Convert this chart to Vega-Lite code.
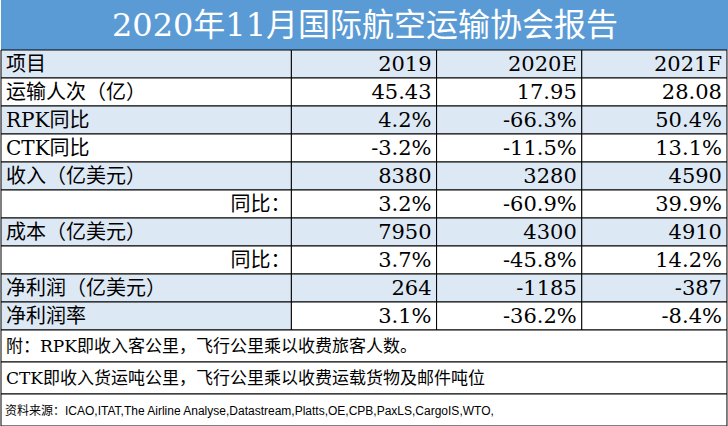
{
  "$schema": "https://vega.github.io/schema/vega-lite/v6.json",
  "background": "white",
  "padding": 0,
  "autosize": {"type": "pad"},
  "bounds": "flush",
  "spacing": 0,
  "config": {"view": {"stroke": null}},
  "vconcat": [
    {
      "width": 728,
      "height": 50,
      "view": {"fill": "#5b9bd5", "stroke": null},
      "data": {"values": [{"t": "2020年11月国际航空运输协会报告"}]},
      "mark": {"type": "text", "color": "white", "font": "DejaVu Serif, Noto Sans CJK SC", "fontSize": 32, "align": "center", "baseline": "middle", "dy": 1},
      "encoding": {"text": {"field": "t"}}
    },
    {
      "width": 728,
      "height": 280,
      "data": {"values": [
        {"r": 0, "item": "项目", "c2019": "2019", "c2020E": "2020E", "c2021F": "2021F"},
        {"r": 1, "item": "运输人次（亿）", "c2019": "45.43", "c2020E": "17.95", "c2021F": "28.08"},
        {"r": 2, "item": "RPK同比", "c2019": "4.2%", "c2020E": "-66.3%", "c2021F": "50.4%"},
        {"r": 3, "item": "CTK同比", "c2019": "-3.2%", "c2020E": "-11.5%", "c2021F": "13.1%"},
        {"r": 4, "item": "收入（亿美元）", "c2019": "8380", "c2020E": "3280", "c2021F": "4590"},
        {"r": 5, "item": "同比：", "c2019": "3.2%", "c2020E": "-60.9%", "c2021F": "39.9%"},
        {"r": 6, "item": "成本（亿美元）", "c2019": "7950", "c2020E": "4300", "c2021F": "4910"},
        {"r": 7, "item": "同比：", "c2019": "3.7%", "c2020E": "-45.8%", "c2021F": "14.2%"},
        {"r": 8, "item": "净利润（亿美元）", "c2019": "264", "c2020E": "-1185", "c2021F": "-387"},
        {"r": 9, "item": "净利润率", "c2019": "3.1%", "c2020E": "-36.2%", "c2021F": "-8.4%"}
      ]},
      "transform": [
        {"fold": ["item", "c2019", "c2020E", "c2021F"], "as": ["key", "value"]},
        {"calculate": "datum.key === 'item' ? 0 : datum.key === 'c2019' ? 2 : datum.key === 'c2020E' ? 3 : 4", "as": "c0"},
        {"calculate": "datum.c0 === 0 ? 2 : datum.c0 + 1", "as": "c1"}
      ],
      "encoding": {
        "y": {"field": "r", "type": "ordinal", "axis": null, "scale": {"paddingInner": 0, "paddingOuter": 0}}
      },
      "layer": [
        {
          "mark": {"type": "rect", "stroke": "#000000", "strokeWidth": 1},
          "encoding": {
            "x": {"field": "c0", "type": "quantitative", "axis": null, "scale": {"domain": [0, 5.014], "nice": false, "zero": false}},
            "x2": {"field": "c1"},
            "fill": {"condition": {"test": "datum.r % 2 === 0 || (datum.r === 9 && datum.key === 'item')", "value": "#dde8f5"}, "value": "#ffffff"}
          }
        },
        {
          "transform": [{"filter": "datum.key !== 'item'"}],
          "mark": {"type": "text", "align": "right", "baseline": "middle", "dx": -5, "dy": 1, "font": "DejaVu Serif, Noto Sans CJK SC", "fontSize": 21, "color": "#000000"},
          "encoding": {
            "x": {"field": "c1", "type": "quantitative"},
            "text": {"field": "value"}
          }
        },
        {
          "transform": [{"filter": "datum.key === 'item' && datum.value !== '同比：'"}],
          "mark": {"type": "text", "align": "left", "baseline": "middle", "dx": 5, "dy": 1, "font": "DejaVu Serif, Noto Sans CJK SC", "fontSize": 20, "color": "#000000"},
          "encoding": {
            "x": {"field": "c0", "type": "quantitative"},
            "text": {"field": "value"}
          }
        },
        {
          "transform": [{"filter": "datum.key === 'item' && datum.value === '同比：'"}],
          "mark": {"type": "text", "align": "right", "baseline": "middle", "dx": -1, "dy": 1, "font": "DejaVu Serif, Noto Sans CJK SC", "fontSize": 20, "color": "#000000"},
          "encoding": {
            "x": {"field": "c1", "type": "quantitative"},
            "text": {"field": "value"}
          }
        }
      ]
    },
    {
      "width": 728,
      "height": 96,
      "data": {"values": [
        {"n": 1, "note": "附：RPK即收入客公里，飞行公里乘以收费旅客人数。"},
        {"n": 2, "note": "CTK即收入货运吨公里，飞行公里乘以收费运载货物及邮件吨位"},
        {"n": 3, "note": "资料来源：ICAO,ITAT,The Airline Analyse,Datastream,Platts,OE,CPB,PaxLS,CargoIS,WTO,"}
      ]},
      "encoding": {
        "y": {"field": "n", "type": "ordinal", "axis": null, "scale": {"paddingInner": 0, "paddingOuter": 0}}
      },
      "layer": [
        {
          "mark": {"type": "rect", "stroke": "#000000", "strokeWidth": 1, "fill": "#ffffff"},
          "encoding": {
            "x": {"datum": 0, "type": "quantitative", "axis": null, "scale": {"domain": [0, 5.014], "nice": false, "zero": false}},
            "x2": {"datum": 5}
          }
        },
        {
          "transform": [{"filter": "datum.n < 3"}],
          "mark": {"type": "text", "align": "left", "baseline": "middle", "dx": 5, "dy": 1, "font": "DejaVu Serif, Noto Sans CJK SC", "fontSize": 17, "color": "#000000"},
          "encoding": {
            "x": {"datum": 0, "type": "quantitative"},
            "text": {"field": "note"}
          }
        },
        {
          "transform": [{"filter": "datum.n === 3"}],
          "mark": {"type": "text", "align": "left", "baseline": "middle", "dx": 4, "dy": 1, "font": "Liberation Sans, Noto Sans CJK SC", "fontSize": 12, "color": "#000000"},
          "encoding": {
            "x": {"datum": 0, "type": "quantitative"},
            "text": {"field": "note"}
          }
        }
      ]
    }
  ]
}
